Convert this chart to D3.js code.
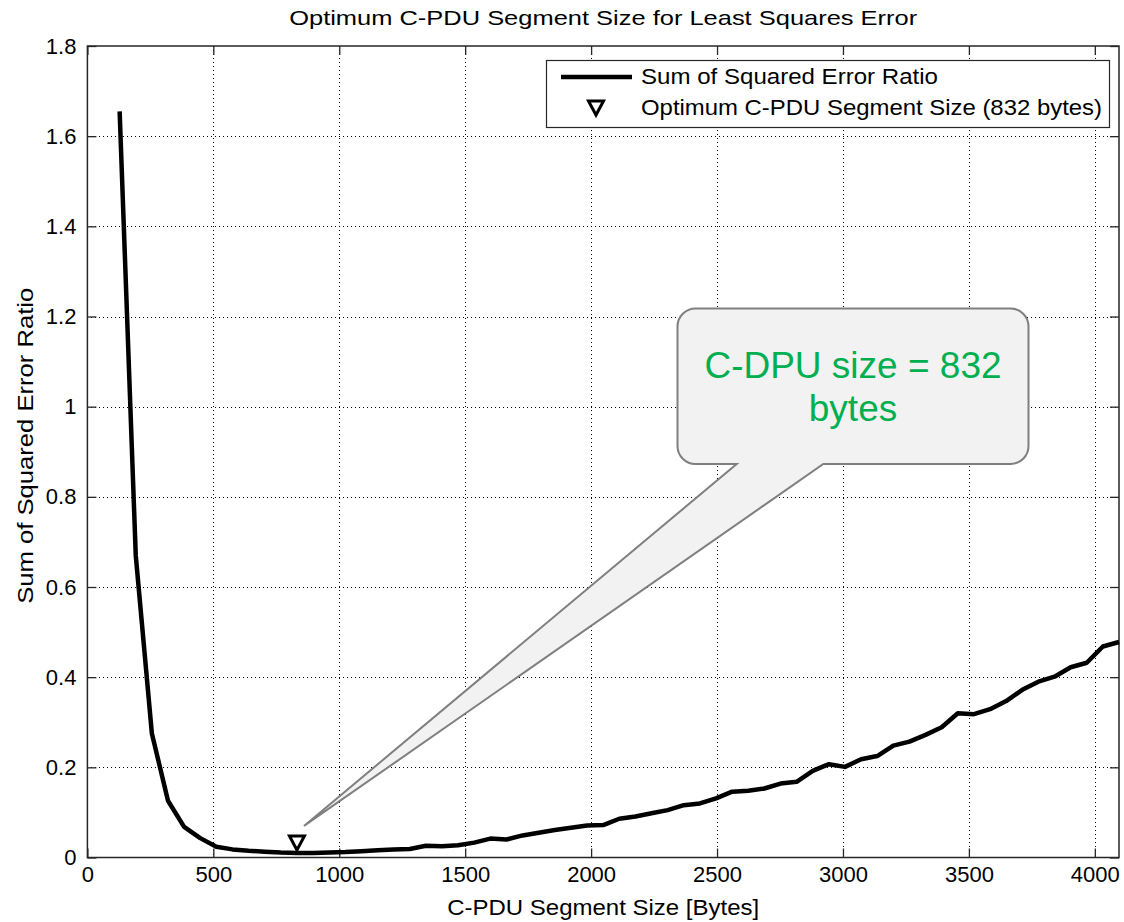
<!DOCTYPE html>
<html>
<head>
<meta charset="utf-8">
<script src="https://cdn.jsdelivr.net/npm/d3@7"></script>
<style>
  body { margin: 0; background: #fff; }
  svg text { font-family: "Liberation Sans", Arial, Helvetica, sans-serif; fill: #000; }
</style>
</head>
<body>
<svg id="chart" width="1124" height="922"></svg>
<script>
// Segment sizes (bytes) and the matching sum-of-squared-error ratio
const segmentSizes = [
  128, 192, 256, 320, 384, 448, 512, 576, 640, 704, 768, 832, 896, 960,
  1024, 1088, 1152, 1216, 1280, 1344, 1408, 1472, 1536, 1600, 1664, 1728,
  1792, 1856, 1920, 1984, 2048, 2112, 2176, 2240, 2304, 2368, 2432, 2496,
  2560, 2624, 2688, 2752, 2816, 2880, 2944, 3008, 3072, 3136, 3200, 3264,
  3328, 3392, 3456, 3520, 3584, 3648, 3712, 3776, 3840, 3904, 3968, 4032, 4096
];
const errorRatio = [
  1.655, 0.670, 0.275, 0.126, 0.068, 0.043, 0.024, 0.018, 0.015, 0.013, 0.011, 0.010, 0.010, 0.011,
  0.012, 0.014, 0.016, 0.018, 0.019, 0.026, 0.025, 0.027, 0.033, 0.042, 0.040, 0.049,
  0.055, 0.061, 0.066, 0.071, 0.072, 0.086, 0.091, 0.098, 0.105, 0.116, 0.120, 0.131,
  0.146, 0.148, 0.153, 0.164, 0.168, 0.192, 0.207, 0.201, 0.218, 0.225, 0.248, 0.257,
  0.272, 0.289, 0.320, 0.318, 0.329, 0.347, 0.372, 0.390, 0.401, 0.422, 0.432, 0.468, 0.478
];

// Optimum marker
const optimumSize = 832;
const optimumMarkerValue = 0.032;

// Callout pointer tip (data coordinates)
const calloutTipSize = 860;
const calloutTipValue = 0.070;

const xTicks = [0, 500, 1000, 1500, 2000, 2500, 3000, 3500, 4000];
const xTickLabels = ["0", "500", "1000", "1500", "2000", "2500", "3000", "3500", "4000"];
const yTicks = [0, 0.2, 0.4, 0.6, 0.8, 1, 1.2, 1.4, 1.6, 1.8];
const yTickLabels = ["0", "0.2", "0.4", "0.6", "0.8", "1", "1.2", "1.4", "1.6", "1.8"];

const titleText = "Optimum C-PDU Segment Size for Least Squares Error";
const xLabelText = "C-PDU Segment Size [Bytes]";
const yLabelText = "Sum of Squared Error Ratio";
const legendLabels = ["Sum of Squared Error Ratio", "Optimum C-PDU Segment Size (832 bytes)"];
const calloutLines = ["C-DPU size = 832", "bytes"];

// ---- layout ----
const plotLeft = 87.4, plotRight = 1119, plotTop = 46, plotBottom = 857.5;
const fontSize = 22;

const svg = d3.select("#chart");
const x = d3.scaleLinear().domain([0, 4096]).range([plotLeft, plotRight]);
const y = d3.scaleLinear().domain([0, 1.8]).range([plotBottom, plotTop]);

// dotted grid
const grid = svg.append("g").attr("stroke", "#000").attr("stroke-width", 1)
  .attr("stroke-dasharray", "1,3").attr("shape-rendering", "crispEdges");
grid.selectAll(".gx").data(xTicks.filter(d => d > 0)).join("line")
  .attr("x1", d => Math.round(x(d)) + 0.5).attr("x2", d => Math.round(x(d)) + 0.5)
  .attr("y1", plotTop).attr("y2", plotBottom);
grid.selectAll(".gy").data(yTicks.filter(d => d > 0 && d < 1.8)).join("line")
  .attr("y1", d => Math.round(y(d)) + 0.5).attr("y2", d => Math.round(y(d)) + 0.5)
  .attr("x1", plotLeft).attr("x2", plotRight);

// axes with inward ticks on all four sides
const tickLen = 9;
const axisColor = "#262626";
function styleAxis(g) {
  g.select(".domain").remove();
  g.selectAll(".tick line").attr("stroke", axisColor).attr("stroke-width", 1.3);
  g.selectAll(".tick text").attr("font-size", fontSize).attr("fill", "#000")
    .attr("font-family", "Liberation Sans, Arial, sans-serif");
}
svg.append("g").attr("transform", `translate(0,${plotBottom})`)
  .call(d3.axisBottom(x).tickValues(xTicks).tickFormat((d, i) => xTickLabels[i])
    .tickSizeInner(-tickLen).tickSizeOuter(0).tickPadding(9))
  .call(styleAxis);
svg.append("g").attr("transform", `translate(0,${plotTop})`)
  .call(d3.axisTop(x).tickValues(xTicks).tickFormat("").tickSizeInner(-tickLen).tickSizeOuter(0))
  .call(styleAxis);
svg.append("g").attr("transform", `translate(${plotLeft},0)`)
  .call(d3.axisLeft(y).tickValues(yTicks).tickFormat((d, i) => yTickLabels[i])
    .tickSizeInner(-tickLen).tickSizeOuter(0).tickPadding(11))
  .call(styleAxis);
svg.append("g").attr("transform", `translate(${plotRight},0)`)
  .call(d3.axisRight(y).tickValues(yTicks).tickFormat("").tickSizeInner(-tickLen).tickSizeOuter(0))
  .call(styleAxis);

// axes box
svg.append("rect").attr("x", plotLeft).attr("y", plotTop)
  .attr("width", plotRight - plotLeft).attr("height", plotBottom - plotTop)
  .attr("fill", "none").attr("stroke", axisColor).attr("stroke-width", 1.5);

// error ratio curve
const series = segmentSizes.map((s, i) => ({ s, v: errorRatio[i] }));
svg.append("path").datum(series)
  .attr("fill", "none").attr("stroke", "#000").attr("stroke-width", 4.5)
  .attr("stroke-linejoin", "round").attr("stroke-linecap", "butt")
  .attr("d", d3.line().x(d => x(d.s)).y(d => y(d.v)));

// downward triangle marker
function triangle(g, cx, cy) {
  const w = 7.5, h = 7;
  g.append("path")
    .attr("d", `M${cx - w},${cy - h}L${cx + w},${cy - h}L${cx},${cy + h}Z`)
    .attr("fill", "#fff").attr("stroke", "#000").attr("stroke-width", 3)
    .attr("stroke-linejoin", "miter");
}
triangle(svg, x(optimumSize), y(optimumMarkerValue));

// title and axis labels
svg.append("text").attr("x", (plotLeft + plotRight) / 2).attr("y", 25)
  .attr("text-anchor", "middle").attr("font-size", 21)
  .attr("textLength", 628).attr("lengthAdjust", "spacingAndGlyphs").text(titleText);
svg.append("text").attr("x", (plotLeft + plotRight) / 2).attr("y", 915)
  .attr("text-anchor", "middle").attr("font-size", fontSize)
  .attr("textLength", 312).attr("lengthAdjust", "spacingAndGlyphs").text(xLabelText);
svg.append("text").attr("transform", `translate(33,${(plotTop + plotBottom) / 2 - 6}) rotate(-90)`)
  .attr("text-anchor", "middle").attr("font-size", fontSize)
  .attr("textLength", 316).attr("lengthAdjust", "spacingAndGlyphs").text(yLabelText);

// legend
const legendWidths = [297, 461];
const lg = svg.append("g");
lg.append("rect").attr("x", 546.5).attr("y", 60.5).attr("width", 563).attr("height", 67)
  .attr("fill", "#fff").attr("stroke", axisColor).attr("stroke-width", 1.2);
lg.append("line").attr("x1", 561).attr("x2", 632).attr("y1", 77).attr("y2", 77)
  .attr("stroke", "#000").attr("stroke-width", 4.5);
triangle(lg, 596, 108);
lg.selectAll(".lt").data(legendLabels).join("text")
  .attr("x", 641).attr("y", (d, i) => 84 + i * 31)
  .attr("font-size", fontSize)
  .attr("textLength", (d, i) => legendWidths[i]).attr("lengthAdjust", "spacingAndGlyphs")
  .text(d => d);

// callout balloon pointing at the optimum
const bx0 = 677.5, bx1 = 1028.5, by0 = 308.5, by1 = 464, r = 18;
const tailL = 736.7, tailR = 823.3;
const tx = x(calloutTipSize), ty = y(calloutTipValue);
const bubble = d3.path();
bubble.moveTo(bx0 + r, by0);
bubble.lineTo(bx1 - r, by0);
bubble.arcTo(bx1, by0, bx1, by0 + r, r);
bubble.lineTo(bx1, by1 - r);
bubble.arcTo(bx1, by1, bx1 - r, by1, r);
bubble.lineTo(tailR, by1);
bubble.lineTo(tx, ty);
bubble.lineTo(tailL, by1);
bubble.lineTo(bx0 + r, by1);
bubble.arcTo(bx0, by1, bx0, by1 - r, r);
bubble.lineTo(bx0, by0 + r);
bubble.arcTo(bx0, by0, bx0 + r, by0, r);
bubble.closePath();
svg.append("path").attr("d", bubble.toString())
  .attr("fill", "#f2f2f2").attr("stroke", "#7f7f7f").attr("stroke-width", 2)
  .attr("stroke-linejoin", "miter");
svg.selectAll(".ct").data(calloutLines).join("text")
  .attr("x", (bx0 + bx1) / 2).attr("y", (d, i) => 378 + i * 43)
  .attr("text-anchor", "middle").attr("font-size", 37)
  .attr("font-family", "Lato, 'Noto Sans', sans-serif")
  .style("fill", "#00b050").text(d => d);
</script>
</body>
</html>
